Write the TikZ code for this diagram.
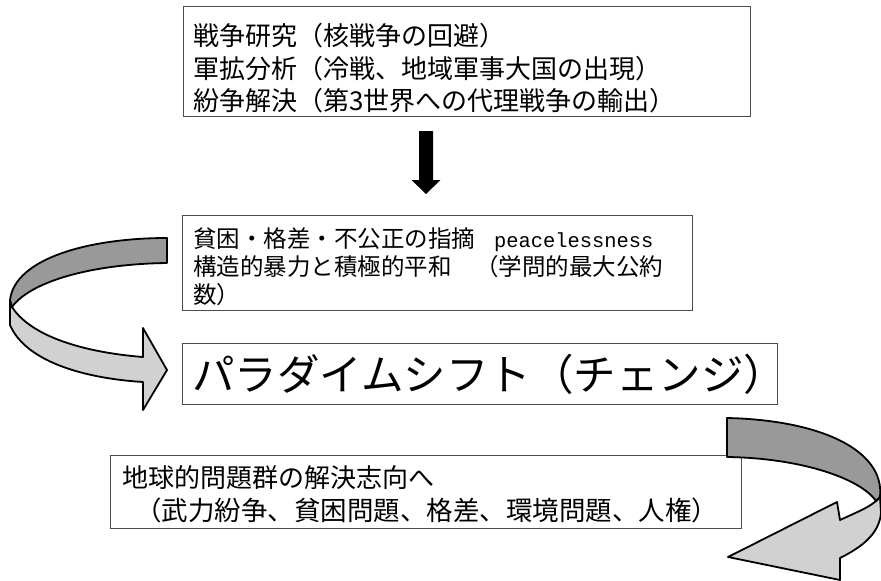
\documentclass[tikz,border=0pt]{standalone}
\usepackage{fontspec}
\newfontfamily\jp{Noto Sans CJK JP}
\newfontfamily\monofnt{Liberation Mono}
\definecolor{ribdark}{gray}{0.6}
\definecolor{riblight}{gray}{0.82}
\definecolor{boxline}{gray}{0.3}
\begin{document}
\begin{tikzpicture}[x=1pt,y=-1pt,
  box/.style={draw=boxline, line width=1pt, fill=white, inner sep=0pt, anchor=north west},
  txt/.style={anchor=base west, inner sep=0pt},
  fa/.style={font=\jp\fontsize{26pt}{32pt}\selectfont},
  fa2/.style={font=\jp\fontsize{26.5pt}{32pt}\selectfont},
  fb/.style={font=\jp\fontsize{23.5pt}{28pt}\selectfont},
  fc/.style={font=\jp\fontsize{42.5pt}{48pt}\selectfont},
  fm/.style={font=\monofnt\fontsize{20.4pt}{28pt}\selectfont},
  ribbondark/.style={draw=black, line width=1.8pt, fill=ribdark, line join=round},
  ribbonlight/.style={draw=black, line width=1.8pt, fill=riblight, line join=round},
  blockarrow/.style={fill=black, draw=none}
]
\useasboundingbox (0,0) rectangle (881,581);

% boxes
\node[box, minimum width=567pt, minimum height=110pt] (b1) at (183,6) {};
\node[box, minimum width=510pt, minimum height=95pt] (b2) at (182,215) {};
\node[box, minimum width=595pt, minimum height=61pt] (b3) at (182,343) {};
\node[box, minimum width=631pt, minimum height=73pt] (b4) at (110,455) {};

% texts of box 1
\node[txt, fa] (l11) at (193,45) {戦争研究（核戦争の回避）};
\node[txt, fa] (l12) at (193,78.5) {軍拡分析（冷戦、地域軍事大国の出現）};
\node[txt, fa] (l13) at (193,110) {紛争解決（第3世界への代理戦争の輸出）};

% texts of box 2
\node[txt, fb] (l21) at (193,247.5) {貧困・格差・不公正の指摘};
\node[txt, fm] (l21e) at (494,247.5) {peacelessness};
\node[txt, fb] (l22) at (193,275.5) {構造的暴力と積極的平和　（学問的最大公約};
\node[txt, fb] (l23) at (193,303.5) {数）};

% text of box 3
\node[txt, fc] (l31) at (192,390) {パラダイムシフト（チェンジ）};

% texts of box 4
\node[txt, fa] (l41) at (122,487) {地球的問題群の解決志向へ};
\node[txt, fa2] (l42) at (135,520) {（武力紛争、貧困問題、格差、環境問題、人権）};

% down arrow between box 1 and box 2
\coordinate (dtop) at (426,131);
\fill[blockarrow] (dtop) ++(-7,0) -- ++(14,0) -- ++(0,49) -- ++(7.5,0)
  -- ++(-14.5,14) -- ++(-14.5,-14) -- ++(7.5,0) -- cycle;

% left curved arrow
\filldraw[ribbonlight] (10,300) -- (10,325) .. controls (25,360) and (80,378) .. (143,382)
  -- (143,410) -- (167,370) -- (143,328) -- (143,357)
  .. controls (80,352) and (30,335) .. (12,307) -- cycle;
\filldraw[ribbondark] (167,238) .. controls (90,238) and (15,258) .. (10,300)
  -- (12,307) .. controls (30,282) and (90,264) .. (167,263) -- cycle;

% right curved arrow
\filldraw[ribbonlight] (880,497) -- (881,513) .. controls (879,535) and (860,548) .. (840,558)
  -- (840,580) -- (728,557) -- (837,502) -- (840,520)
  .. controls (855,513) and (868,508) .. (876,501) -- cycle;
\filldraw[ribbondark] (727,418) .. controls (820,420) and (885,450) .. (880,497)
  -- (876,501) .. controls (860,478) and (800,458) .. (727,457) -- cycle;
\end{tikzpicture}
\end{document}
